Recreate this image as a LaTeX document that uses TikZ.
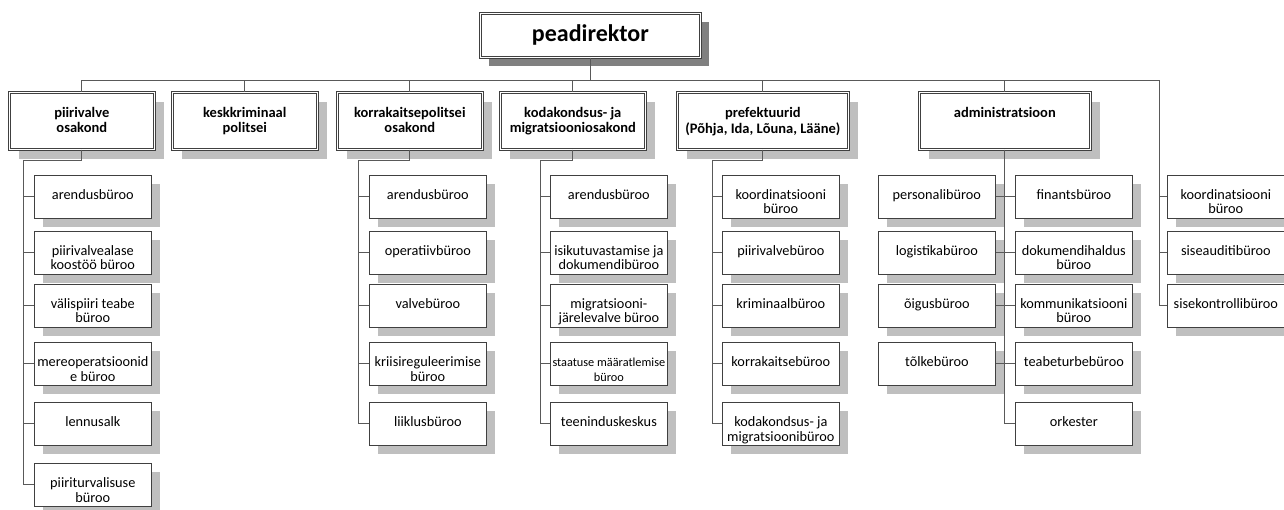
\documentclass[tikz,border=0pt]{standalone}
\usepackage{fontspec}
\setmainfont{Carlito}
\usepackage{tikz}
\usetikzlibrary{shapes,shadows,positioning}
\definecolor{boxline}{HTML}{404040}
\definecolor{linegray}{HTML}{595959}
\definecolor{shadelight}{HTML}{BFBFBF}
\definecolor{shadedark}{HTML}{808080}

\tikzset{
	headbox/.style={draw=boxline, double=white, double distance=1.4pt, line width=0.7pt,
		fill=white, minimum width=220pt, minimum height=44pt, inner sep=0pt, anchor=north west,
		general shadow={fill=shadedark, shadow xshift=9pt, shadow yshift=-9pt},
		font=\bfseries\fontsize{24}{28}\selectfont},
	dept/.style={draw=boxline, double=white, double distance=1.4pt, line width=0.6pt,
		fill=white, inner sep=0pt, anchor=north west,
		general shadow={fill=shadelight, shadow xshift=10pt, shadow yshift=-10pt},
		font=\bfseries\fontsize{14.5}{14.5}\selectfont,
		execute at begin node={\begin{minipage}[c][57pt][t]{#1}\vspace*{15pt}\centering\strut},
		execute at end node={\end{minipage}}},
	dept/.default=145pt,
	unit/.style={draw=boxline, line width=0.7pt, fill=white, inner sep=0pt, anchor=north west,
		general shadow={fill=shadelight, shadow xshift=9pt, shadow yshift=-9pt},
		font=\fontsize{14.3}{14.5}\selectfont,
		execute at begin node={\begin{minipage}[c][43pt][t]{117pt}\vspace*{14pt}\centering\strut},
		execute at end node={\end{minipage}}},
	conn/.style={draw=linegray, line width=0.8pt}
}

\begin{document}
\begin{tikzpicture}[x=1pt, y=-1pt]
	\useasboundingbox (0,0) rectangle (1284,510);
	% the head
	\node[headbox] (pea) at (480,13) {peadirektor};
	%% the departments
	\node[dept] (pv) at (9,92) {piirivalve\\osakond};
	\node[dept] (kk) at (172,92) {keskkriminaal\\politsei};
	\node[dept] (kp) at (337,92) {korrakaitsepolitsei\\osakond};
	\node[dept] (km) at (500,92) {kodakondsus- ja\\migratsiooniosakond};
	\node[dept=171pt] (pr) at (677,92) {prefektuurid\\(Põhja, Ida, Lõuna, Lääne)};
	\node[dept=171pt] (ad) at (919,92) {administratsioon};
	%% piirivalve osakond
	\node[unit] (pv1) at (34,175) {arendusbüroo};
	\node[unit] (pv2) at (34,231) {piirivalvealase\\koostöö büroo};
	\node[unit] (pv3) at (34,284) {välispiiri teabe\\büroo};
	\node[unit] (pv4) at (34,342) {mereoperatsioonid\\e büroo};
	\node[unit] (pv5) at (34,402) {lennusalk};
	\node[unit] (pv6) at (34,463) {piiriturvalisuse\\büroo};
	%% korrakaitsepolitsei osakond
	\node[unit] (kp1) at (369,175) {arendusbüroo};
	\node[unit] (kp2) at (369,231) {operatiivbüroo};
	\node[unit] (kp3) at (369,284) {valvebüroo};
	\node[unit] (kp4) at (369,342) {kriisireguleerimise\\büroo};
	\node[unit] (kp5) at (369,402) {liiklusbüroo};
	%% kodakondsus- ja migratsiooniosakond
	\node[unit] (km1) at (550,175) {arendusbüroo};
	\node[unit] (km2) at (550,231) {isikutuvastamise ja\\dokumendibüroo};
	\node[unit] (km3) at (550,284) {migratsiooni-\\järelevalve büroo};
	\node[unit] (km4) at (550,342) {\fontsize{12.3}{13}\selectfont staatuse määratlemise\\büroo};
	\node[unit] (km5) at (550,402) {teeninduskeskus};
	%% prefektuurid
	\node[unit] (pr1) at (722,175) {koordinatsiooni\\büroo};
	\node[unit] (pr2) at (722,231) {piirivalvebüroo};
	\node[unit] (pr3) at (722,284) {kriminaalbüroo};
	\node[unit] (pr4) at (722,342) {korrakaitsebüroo};
	\node[unit] (pr5) at (722,402) {kodakondsus- ja\\migratsioonibüroo};
	%% administratsioon
	\node[unit] (adl1) at (878,175) {personalibüroo};
	\node[unit] (adl2) at (878,231) {logistikabüroo};
	\node[unit] (adl3) at (878,284) {õigusbüroo};
	\node[unit] (adl4) at (878,342) {tõlkebüroo};
	\node[unit] (adr1) at (1015,175) {finantsbüroo};
	\node[unit] (adr2) at (1015,231) {dokumendihaldus\\büroo};
	\node[unit] (adr3) at (1015,284) {kommunikatsiooni\\büroo};
	\node[unit] (adr4) at (1015,342) {teabeturbebüroo};
	\node[unit] (adr5) at (1015,402) {orkester};
	%% under the head
	\node[unit] (kb1) at (1167,175) {koordinatsiooni\\büroo};
	\node[unit] (kb2) at (1167,231) {siseauditibüroo};
	\node[unit] (kb3) at (1167,284) {sisekontrollibüroo};

	% the lines
	\coordinate (kbv) at (1159,80);
	\coordinate (pvv) at (23,160);
	\coordinate (kpv) at (358,160);
	\coordinate (kmv) at (540,160);
	\coordinate (prv) at (712,160);
	\draw[conn] (pea.south) -- (pea.south |- kbv);
	\draw[conn] (pv.north) |- (kbv) |- (kb3.west);
	\draw[conn] (kk.north) -- (kk.north |- kbv);
	\draw[conn] (kp.north) -- (kp.north |- kbv);
	\draw[conn] (km.north) -- (km.north |- kbv);
	\draw[conn] (pr.north) -- (pr.north |- kbv);
	\draw[conn] (ad.north) -- (ad.north |- kbv);
	\draw[conn] (kbv |- kb1.west) -- (kb1.west) (kbv |- kb2.west) -- (kb2.west);
	\draw[conn] (pv.south) |- (pvv) |- (pv6.west);
	\draw[conn] (pvv |- pv1.west) -- (pv1.west) (pvv |- pv2.west) -- (pv2.west)
		(pvv |- pv3.west) -- (pv3.west) (pvv |- pv4.west) -- (pv4.west)
		(pvv |- pv5.west) -- (pv5.west);
	\draw[conn] (kp.south) |- (kpv) |- (kp5.west);
	\draw[conn] (kpv |- kp1.west) -- (kp1.west) (kpv |- kp2.west) -- (kp2.west)
		(kpv |- kp3.west) -- (kp3.west) (kpv |- kp4.west) -- (kp4.west);
	\draw[conn] (km.south) |- (kmv) |- (km5.west);
	\draw[conn] (kmv |- km1.west) -- (km1.west) (kmv |- km2.west) -- (km2.west)
		(kmv |- km3.west) -- (km3.west) (kmv |- km4.west) -- (km4.west);
	\draw[conn] (pr.south) |- (prv) |- (pr5.west);
	\draw[conn] (prv |- pr1.west) -- (pr1.west) (prv |- pr2.west) -- (pr2.west)
		(prv |- pr3.west) -- (pr3.west) (prv |- pr4.west) -- (pr4.west);
	\draw[conn] (ad.south) |- (adr5.west);
	\draw[conn] (adl1.east) -- (adr1.west) (adl2.east) -- (adr2.west)
		(adl3.east) -- (adr3.west) (adl4.east) -- (adr4.west);
\end{tikzpicture}
\end{document}
